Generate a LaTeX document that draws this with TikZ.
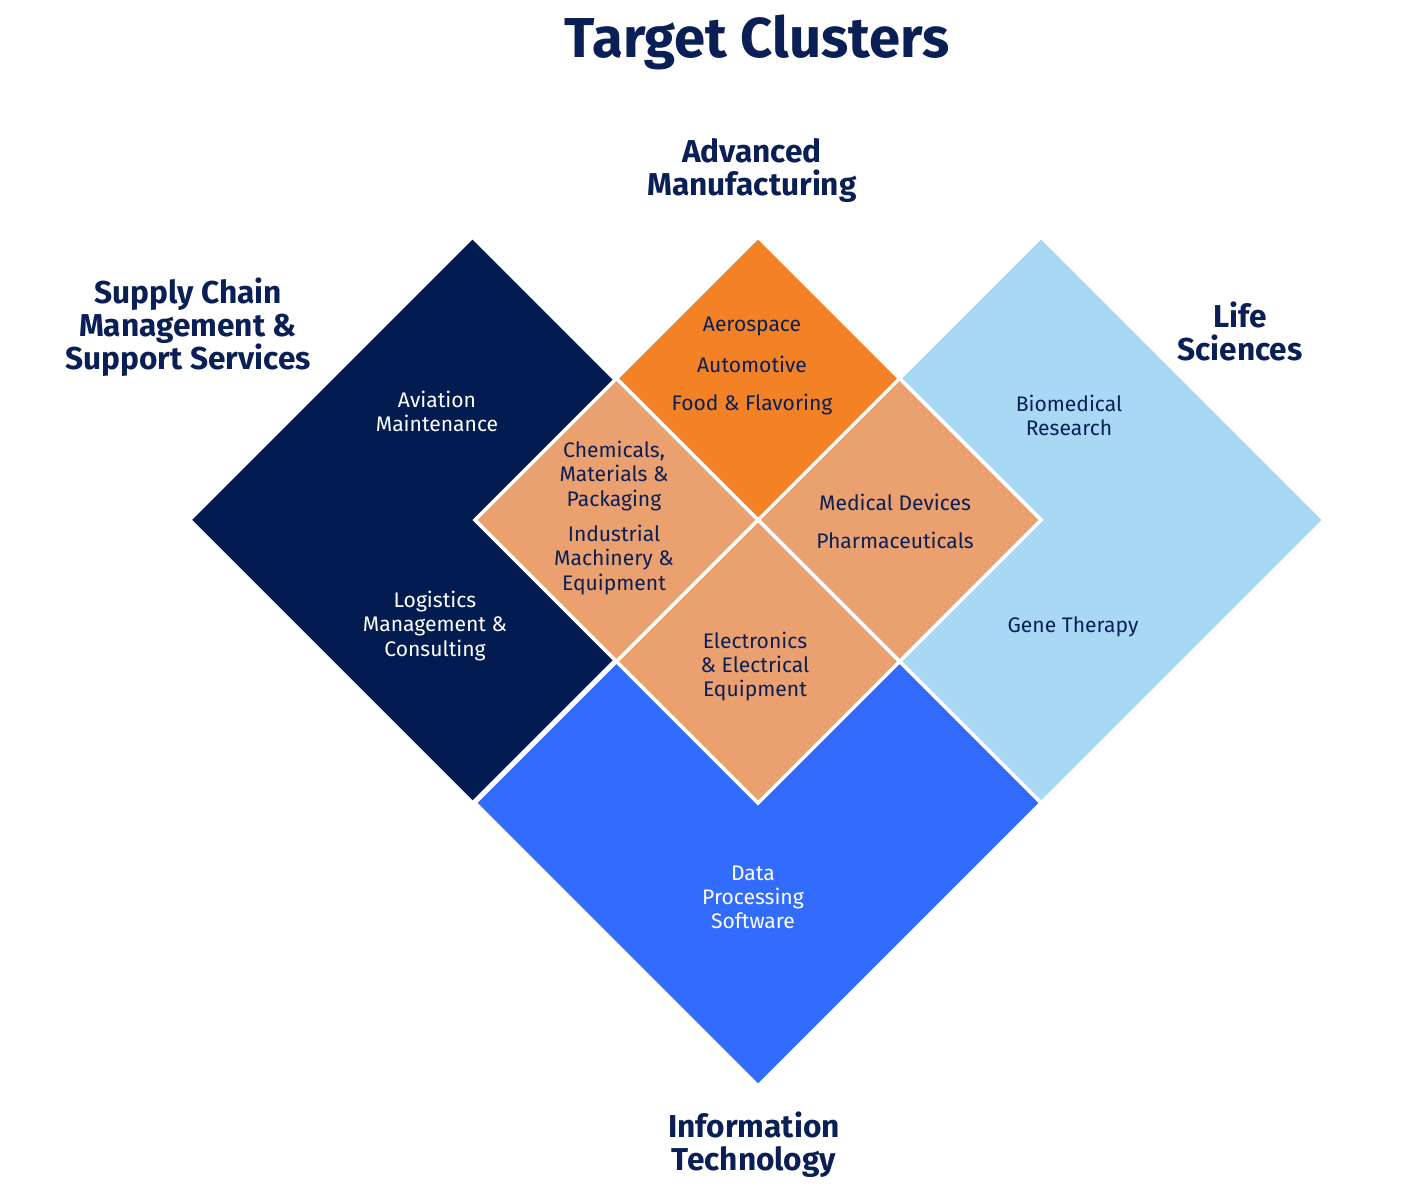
\documentclass[tikz,border=0pt]{standalone}
\usepackage{fontspec}
\setmainfont{Fira Sans}
\usetikzlibrary{positioning}
\definecolor{navy}{HTML}{021C52}
\definecolor{inknavy}{HTML}{0A1F55}
\definecolor{amorange}{HTML}{F38226}
\definecolor{salmon}{HTML}{EBA06F}
\definecolor{skyblue}{HTML}{A8D8F4}
\definecolor{itblue}{HTML}{326CFF}
% diamond tile: fill, centre x, centre y, half diagonal
\newcommand{\dtile}[4]{\filldraw[tile, fill=#1] (#2,#3) ++(0,#4) -- ++(#4,-#4) -- ++(-#4,-#4) -- ++(-#4,#4) -- cycle;}

\begin{document}
\begin{tikzpicture}[
  tile/.style={draw=white, line width=2pt, line join=miter},
  item/.style={align=center, font=\fontsize{12}{13.7}\selectfont, text=inknavy},
  itemw/.style={item, text=white},
  cluster/.style={align=center, font=\fontsize{18}{18.8}\selectfont\bfseries, text=inknavy}
]
\useasboundingbox (0,0) rectangle (28.56,24);

% big clusters
\dtile{navy}{9.45}{13.6}{5.66}
\dtile{skyblue}{20.82}{13.6}{5.66}
\dtile{itblue}{15.16}{7.94}{5.66}
\dtile{amorange}{15.16}{13.6}{5.66}
% overlaps with advanced manufacturing
\dtile{salmon}{12.33}{13.6}{2.83}
\dtile{salmon}{17.99}{13.6}{2.83}
\dtile{salmon}{15.16}{10.77}{2.83}

\node[anchor=base, font=\fontsize{32}{38}\selectfont\bfseries, text=inknavy] (title) at (15.14,22.84) {Target Clusters};

\node[cluster] (advman) at (15.04,20.58) {Advanced\\Manufacturing};
\node[cluster] (supply) at (3.76,17.46) {Supply Chain\\Management \&\\Support Services};
\node[cluster] (life) at (24.8,17.37) {Life\\Sciences};
\node[cluster] (infotech) at (15.08,1.11) {Information\\Technology};

\node[item] (aero) at (15.04,17.47) {Aerospace};
\node[item] (auto) at (15.04,16.72) {Automotive};
\node[item] (food) at (15.04,15.90) {Food \& Flavoring};

\node[itemw] (aviation) at (8.74,15.78) {Aviation\\Maintenance};
\node[itemw] (logistics) at (8.70,11.48) {Logistics\\Management \&\\Consulting};

\node[item] (chem) at (12.28,14.48) {Chemicals,\\Materials \&\\Packaging};
\node[item] (machinery) at (12.28,12.80) {Industrial\\Machinery \&\\Equipment};

\node[item] (meddev) at (17.9,13.96) {Medical Devices};
\node[item] (pharma) at (17.9,13.2) {Pharmaceuticals};

\node[item] (biomed) at (21.38,15.7) {Biomedical\\Research};
\node[item] (gene) at (21.46,11.47) {Gene Therapy};

\node[item] (electro) at (15.1,10.67) {Electronics\\\& Electrical\\Equipment};
\node[itemw] (data) at (15.06,6.06) {Data\\Processing\\Software};
\end{tikzpicture}
\end{document}
